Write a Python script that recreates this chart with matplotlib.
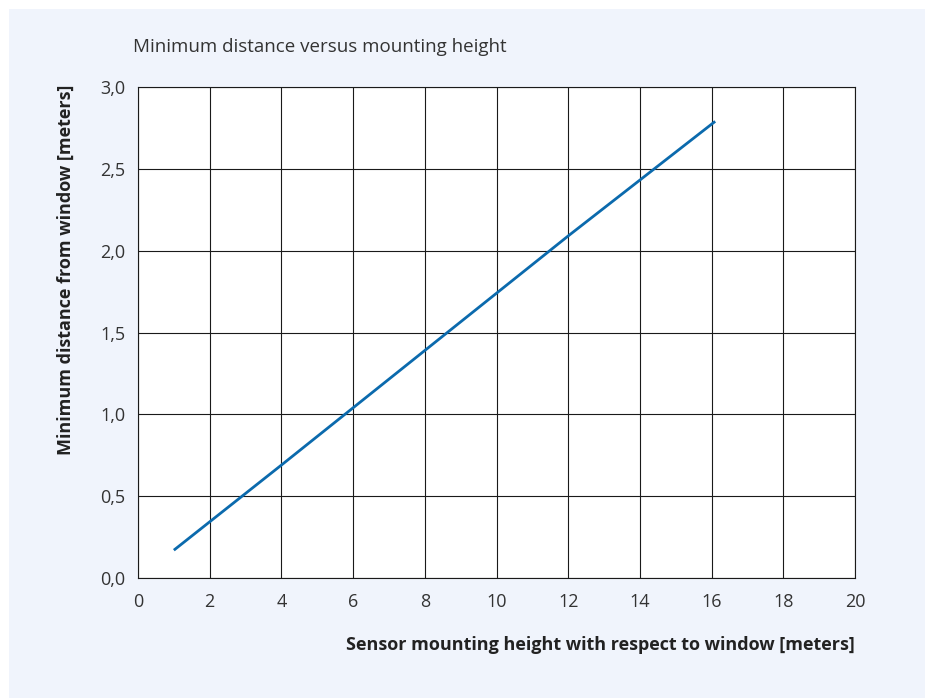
import matplotlib.pyplot as plt
from matplotlib.patches import Rectangle

# sensor mounting height [m] and minimum distance [m]
hauteur = [1, 4, 8, 12, 16.1]
distance = [0.17, 0.69, 1.39, 2.09, 2.79]

x_ticks = list(range(0, 21, 2))
y_ticks = [0.0, 0.5, 1.0, 1.5, 2.0, 2.5, 3.0]
y_labels = ['0,0', '0,5', '1,0', '1,5', '2,0', '2,5', '3,0']

plt.rcParams['font.family'] = ['Open Sans', 'DejaVu Sans']

fig = plt.figure(figsize=(9.32, 6.98), dpi=100)
W, H = 932, 698
fond = Rectangle((9 / W, 0), 916 / W, 689 / H, transform=fig.transFigure,
                 facecolor='#f0f4fc', edgecolor='none', zorder=-1)
fig.add_artist(fond)

ax = fig.add_axes([138 / W, 1 - 578 / H, 717 / W, 491 / H])
ax.set_zorder(2)
ax.set_facecolor('white')
ax.plot(hauteur, distance, color='#0b6aad', linewidth=2, solid_capstyle='butt', zorder=3)

ax.set_xlim(0, 20)
ax.set_ylim(0, 3)
ax.set_xticks(x_ticks)
ax.set_yticks(y_ticks)
ax.set_yticklabels(y_labels)
ax.grid(True, color='#1a1a1a', linewidth=0.8)
for s in ax.spines.values():
    s.set_color('#1a1a1a')
    s.set_linewidth(0.8)
ax.tick_params(length=0, labelsize=13, colors='#333333')
ax.tick_params(axis='x', pad=11)
ax.tick_params(axis='y', pad=9)

fig.text(133 / W, 1 - 47 / H, 'Minimum distance versus mounting height',
         fontsize=13.5, color='#333333', va='center', ha='left')
fig.text(66 / W, 1 - 270 / H, 'Minimum distance from window [meters]',
         fontsize=13, fontweight='bold', color='#222222', rotation=90, va='center', ha='center')
fig.text(855 / W, 1 - 645 / H, 'Sensor mounting height with respect to window [meters]',
         fontsize=13, fontweight='bold', color='#222222', va='center', ha='right')

fig.savefig('out.png', dpi=100, facecolor='white')
